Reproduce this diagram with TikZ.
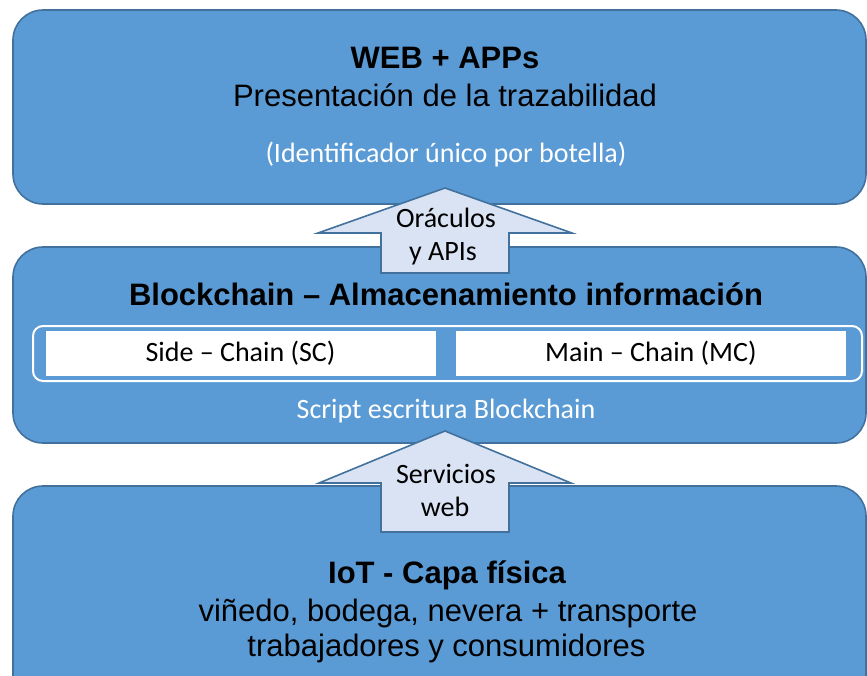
\documentclass[tikz,border=0pt]{standalone}
\usepackage{fontspec}
\setmainfont{Liberation Sans}
\newfontfamily\calibri{Carlito}
\usepackage{xcolor}
\usetikzlibrary{positioning}

\definecolor{layerblue}{HTML}{5B9BD5}
\definecolor{layeredge}{HTML}{41719C}
\definecolor{arrowfill}{HTML}{DAE3F3}

\begin{document}
\begin{tikzpicture}[x=1pt, y=-1pt,
        layer/.style={draw=layeredge, fill=layerblue, line width=1.6pt, rounded corners=30pt, minimum width=853pt, inner sep=0pt},
        title/.style={anchor=base, font=\fontsize{31}{37}\selectfont\bfseries},
        body/.style={anchor=base, font=\fontsize{31}{37}\selectfont},
        note/.style={anchor=base, font=\calibri\fontsize{28}{34}\selectfont},
        chain/.style={fill=white, minimum width=390pt, minimum height=45pt, inner sep=0pt, font=\calibri\fontsize{28}{34}\selectfont},
        uparrow/.style={draw=layeredge, fill=arrowfill, line width=1.6pt, line join=miter}
    ]
        \useasboundingbox (0,0) rectangle (867,675);
        \clip (0,0) rectangle (867,675);

        % Layers
        \node [layer, minimum height=194pt] (web) at (439.5,107) {};
        \node [layer, minimum height=196pt] (bc) at (439.5,345) {};
        \node [layer, minimum height=234pt] (iot) at (439.5,603) {};

        % Web layer
        \node [title] (webtitle) at (445,68) {WEB + APPs};
        \node [body] (webtext) at (445,106) {Presentación de la trazabilidad};
        \node [note, text=white] (webnote) at (446,162) {(Identificador único por botella)};

        % Blockchain layer
        \node [title] (bctitle) at (446,305) {Blockchain – Almacenamiento información};
        \node [draw=white, line width=2pt, rounded corners=10pt, minimum width=829pt, minimum height=55pt] (chains) at (447.5,353.5) {};
        \node [chain] (side) at (240.5,353.5) {Side – Chain (SC)};
        \node [chain, right=20pt of side] (main) {Main – Chain (MC)};
        \node [note, text=white] (bcnote) at (446,418) {Script escritura Blockchain};

        % IoT layer
        \node [title] (iottitle) at (447,583) {IoT - Capa física};
        \node [body] (iottext) at (448,621) {viñedo, bodega, nevera + transporte};
        \node [body] (iotpeople) at (446.5,656) {trabajadores y consumidores};

        % Arrows between layers
        \coordinate (uptip) at (445,188);
        \coordinate (lowtip) at (445,431);
        \draw [uparrow] (uptip) -- ++(127,45) -- ++(-63,0) -- ++(0,40) -- ++(-128,0) -- ++(0,-40) -- ++(-63,0) -- cycle;
        \draw [uparrow] (lowtip) -- ++(126,52) -- ++(-62,0) -- ++(0,49) -- ++(-128,0) -- ++(0,-49) -- ++(-62,0) -- cycle;
        \node [note] (orac) at (446,227) {Oráculos};
        \node [note] (apis) at (443,260) {y APIs};
        \node [note] (serv) at (446,483) {Servicios};
        \node [note] (wsvc) at (445,516) {web};
    \end{tikzpicture}
\end{document}
